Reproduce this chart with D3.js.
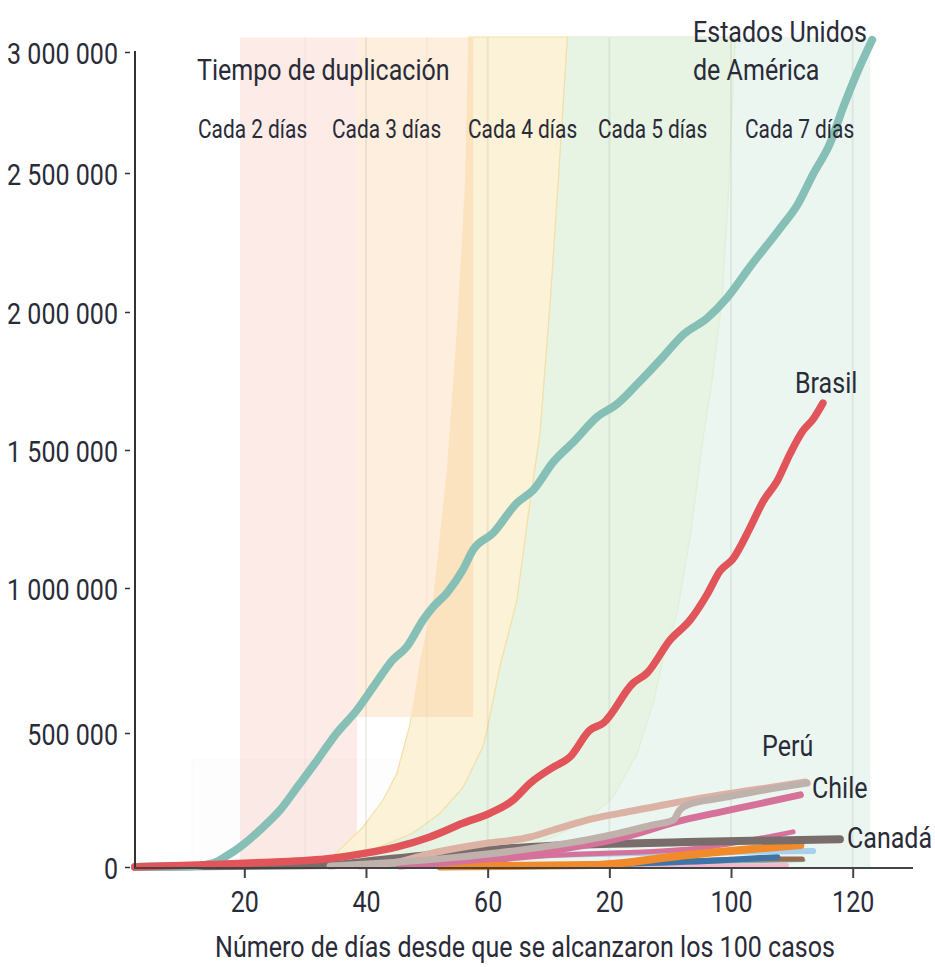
<!DOCTYPE html>
<html><head><meta charset="utf-8">
<script src="https://cdn.jsdelivr.net/npm/d3@7"></script>
<style>body{margin:0;background:#fff;} svg{display:block;}</style>
</head><body><svg id="c" width="935" height="967"></svg>
<script>
// ---------- DATA ----------
const xTickValues = [20, 40, 60, 80, 100, 120];
const xTickLabels = ["20", "40", "60", "20", "100", "120"];
const yTickValues = [0, 500000, 1000000, 1500000, 2000000, 2500000, 3000000];
const gridDays = [40, 60, 80, 100, 120];
const faintGridDays = [30, 50];

// [day since 100th case, cumulative cases]
const usa = [[2,100],[11,2000],[14.9,15000],[17,40000],[19.3,74600],[23.1,149000],[25.9,213000],[28.7,298000],[32.0,399000],[35.2,500000],[38.5,579000],[41.2,659000],[44.4,752000],[46.7,797000],[49.4,890000],[51.0,934000],[53.3,983000],[55.9,1065000],[57.6,1138000],[60.9,1199000],[64.8,1308000],[67.5,1355000],[70.8,1457000],[74.1,1529000],[78.0,1620000],[81.3,1667000],[84.6,1739000],[88.8,1837000],[92.1,1917000],[96.1,1978000],[99.3,2050000],[103.1,2162000],[108.1,2302000],[110.9,2385000],[113.5,2496000],[116.3,2624000],[118.4,2769000],[120.7,2913000],[123.2,3050000]];
const brasil = [[2,100],[14.9,9000],[23.1,17000],[34.1,32000],[39.5,50000],[45.1,75000],[50.5,112000],[56.0,164000],[60.4,201000],[64.2,250000],[67.0,313000],[70.8,373000],[73.5,410000],[76.8,510000],[79.0,534000],[83.9,672000],[86.2,707000],[90.0,821000],[93.3,890000],[96.1,979000],[98.2,1062000],[100.3,1105000],[103.1,1217000],[105.3,1315000],[107.6,1388000],[109.7,1486000],[111.8,1569000],[113.5,1612000],[115.1,1670000]];
const peru = [[39.0,3700],[45.6,20000],[50.5,50000],[58.8,85000],[67.0,112000],[70.8,138000],[76.3,175000],[81.8,201000],[87.2,224000],[91.6,243000],[98.2,269000],[103.6,287000],[112.2,317000]];
const chile = [[34.1,3700],[53.8,34000],[65.3,63000],[76.3,101000],[81.8,127000],[87.2,157000],[90.5,175000],[91.6,213000],[92.8,231000],[98.2,257000],[103.6,280000],[112.5,313000]];
const mexico = [[45.6,3700],[65.3,45000],[81.8,108000],[92.1,175000],[98.2,205000],[103.6,231000],[111.4,269000]];
const canada = [[2.9,1000],[34.1,7000],[39.5,19000],[50.5,45000],[67.0,75000],[92.8,93000],[117.9,104000]];
const ecuador = [[53.8,3700],[65.3,34000],[94.9,71000],[110.2,131000]];
const colombia = [[52.2,2000],[77.3,7000],[92.8,45000],[111.4,82000]];
const panama = [[29.2,3700],[65.3,41000],[94.9,56000],[113.5,60000]];
const bolivia = [[62,2000],[99.3,26000],[107.6,37000]];
const argentina = [[78.5,8000],[108.1,30000],[111.7,30000]];
const rdominicana = [[67,2000],[109.2,7000]];
const guatemala = [[40,1500],[80,9000],[112,24000]];
const others = [[2,500],[60,4000]];

// doubling-time bands
const bandTopCases = 3060000;
const band2Days = [19.3, 38.5];
const band3Days = [38.5, 57.6];
const band3BottomCases = 555000;
const band4Left = [[31.5,0],[35,50000],[39.5,149000],[42.8,250000],[45.1,351000],[47.2,528000],[48.9,752000],[51.0,957000],[53.3,1428000],[54.9,1924000],[56.3,2471000],[56.8,3062000]];
const band4Right = [[33,0],[38,50000],[42.3,75000],[47.7,127000],[52.2,201000],[56.0,299000],[59.2,448000],[59.9,510000],[62.0,728000],[64.8,957000],[67.0,1319000],[68.6,1562000],[70.3,2043000],[71.6,2471000],[73.1,3062000]];
const band5Right = [[35.7,0],[48.9,15000],[58.8,41000],[65.3,75000],[70.8,112000],[76.3,175000],[80.6,261000],[84.6,425000],[87.2,603000],[88.8,752000],[91.1,910000],[93.3,1188000],[95.4,1543000],[96.9,1754000],[98.5,2043000],[99.5,2401000],[100.7,3062000]];
const band7EndDay = 122.9;
const bandLabels = ["Cada 2 días", "Cada 3 días", "Cada 4 días", "Cada 5 días", "Cada 7 días"];
const xTitle = "Número de días desde que se alcanzaron los 100 casos";

// ---------- LAYOUT ----------
const svg = d3.select("#c");
const x = d3.scaleLinear().domain([20, 120]).range([244.3, 852.7]);
const y = d3.scaleLinear()
  .domain([0, 500000, 1000000, 1500000, 2000000, 2500000, 3000000])
  .range([867, 733, 588, 450, 312, 173, 52]);
const axisX0 = 135, axisY0 = 868, axisXEnd = 913;
const TXT = "#2a2b38";
const FONT = "Roboto, 'Liberation Sans', Arial, sans-serif";
svg.attr("font-family", FONT);

// horizontal condensing factor so the axis title spans ~620px at 30px
const probe = svg.append("text").attr("font-size", 30).attr("font-family", FONT).text(xTitle);
const SX = Math.min(1, 620 / probe.node().getComputedTextLength());
probe.remove();

function txt(g, px, py, s, size, anchor) {
  return g.append("text")
    .attr("transform", `translate(${px},${py}) scale(${SX},1)`)
    .attr("text-anchor", anchor || "start")
    .attr("font-size", size)
    .attr("fill", TXT)
    .text(s);
}

const pt = d => [x(d[0]), y(d[1])];
const poly = pts => "M" + pts.map(p => pt(p).join(",")).join("L") + "Z";

// ---------- BANDS ----------
const gB = svg.append("g");
const sevenPoly = band5Right.concat([[band7EndDay, bandTopCases], [band7EndDay, 0]]);
gB.append("path").attr("d", poly(sevenPoly)).attr("fill", "#ebf6f1");
const greenPoly = band4Right.concat(band5Right.slice().reverse());
gB.append("path").attr("d", poly(greenPoly)).attr("fill", "#e8f4e3")
  .attr("stroke", "#e2efdc").attr("stroke-width", 1.5);
gB.append("rect").attr("x", x(band2Days[0])).attr("y", y(bandTopCases))
  .attr("width", x(band2Days[1]) - x(band2Days[0])).attr("height", y(0) - y(bandTopCases))
  .attr("fill", "#fdebe7");
gB.append("rect").attr("x", x(11.4)).attr("y", y(400000)).attr("width", x(49.4) - x(11.4)).attr("height", y(0) - y(400000))
  .attr("fill", "rgba(0,0,0,0.006)").attr("stroke", "rgba(0,0,0,0.02)");
const yellowPoly = band4Left.concat(band4Right.slice().reverse());
gB.append("path").attr("d", poly(yellowPoly)).attr("fill", "#fbf1d5").attr("fill-opacity", 0.95)
  .attr("stroke", "#f5dfa6").attr("stroke-width", 1.2);
const b3 = {x: x(band3Days[0]), y: y(bandTopCases), w: x(band3Days[1]) - x(band3Days[0]), h: y(band3BottomCases) - y(bandTopCases)};
gB.append("rect").attr("x", b3.x).attr("y", b3.y).attr("width", b3.w).attr("height", b3.h).attr("fill", "#fdeedd");
svg.append("clipPath").attr("id", "b3clip").append("rect").attr("x", b3.x).attr("y", b3.y).attr("width", b3.w).attr("height", b3.h);
gB.append("path").attr("d", poly(yellowPoly)).attr("fill", "#fce3bf").attr("clip-path", "url(#b3clip)");

// grid lines
const gG = svg.append("g");
gG.selectAll("line.g").data(gridDays).join("line")
  .attr("x1", d => x(d)).attr("x2", d => x(d)).attr("y1", y(bandTopCases)).attr("y2", axisY0)
  .attr("stroke", "rgba(130,120,100,0.12)").attr("stroke-width", 2);
gG.selectAll("line.f").data(faintGridDays).join("line")
  .attr("x1", d => x(d)).attr("x2", d => x(d)).attr("y1", y(bandTopCases)).attr("y2", axisY0)
  .attr("stroke", "rgba(130,120,100,0.05)").attr("stroke-width", 1.5);

// ---------- LINES ----------
const line = d3.line().x(d => x(d[0])).y(d => y(d[1])).curve(d3.curveMonotoneX);
const series = [
  {data: others, color: "#9c93b8", w: 2.5},
  {data: guatemala, color: "#7fb3aa", w: 3},
  {data: rdominicana, color: "#f4b7cb", w: 4},
  {data: argentina, color: "#9a6a4e", w: 5},
  {data: bolivia, color: "#3f74a9", w: 6},
  {data: panama, color: "#a7d0ec", w: 6},
  {data: ecuador, color: "#d6719a", w: 5},
  {data: colombia, color: "#f08a2a", w: 8},
  {data: canada, color: "#786d6b", w: 8},
  {data: mexico, color: "#d6719a", w: 7},
  {data: peru, color: "#dcb2a5", w: 7},
  {data: chile, color: "#bfb1ab", w: 7},
  {data: usa, color: "#86bfb5", w: 8},
  {data: brasil, color: "#e0545a", w: 7.5}
];
const gL = svg.append("g").attr("fill", "none").attr("stroke-linecap", "round").attr("stroke-linejoin", "round");
gL.selectAll("path").data(series).join("path")
  .attr("d", d => line(d.data)).attr("stroke", d => d.color).attr("stroke-width", d => d.w);

// ---------- AXES ----------
const fmt = d3.formatLocale({decimal: ",", thousands: " ", grouping: [3], currency: ["", ""]}).format(",");
const gy = svg.append("g").attr("transform", `translate(${axisX0},0)`)
  .call(d3.axisLeft(y).tickValues(yTickValues).tickFormat(fmt).tickSize(0).tickSizeOuter(0).tickPadding(17));
gy.select(".domain").remove();
gy.selectAll(".tick").append("line").attr("x1", -10).attr("x2", -5).attr("stroke", "#333").attr("stroke-width", 1.5);
gy.selectAll(".tick text").each(function() {
  const t = d3.select(this); const tx = +t.attr("x");
  t.attr("x", null).attr("dy", null).attr("transform", `translate(${tx},11) scale(${SX},1)`)
   .attr("font-size", 30).attr("font-family", FONT).attr("fill", TXT);
});
svg.append("line").attr("x1", axisX0).attr("x2", axisX0).attr("y1", y(3000000) - 1).attr("y2", axisY0 + 1)
  .attr("stroke", "#333").attr("stroke-width", 2);

const gx = svg.append("g").attr("transform", `translate(0,${axisY0})`)
  .call(d3.axisBottom(x).tickValues(xTickValues).tickFormat((d, i) => xTickLabels[i]).tickSize(10).tickSizeOuter(0).tickPadding(10));
gx.select(".domain").remove();
gx.selectAll(".tick line").attr("stroke", "#444").attr("stroke-width", 2);
gx.selectAll(".tick text").each(function() {
  const t = d3.select(this);
  t.attr("y", null).attr("dy", null).attr("transform", `translate(0,44) scale(${SX},1)`)
   .attr("font-size", 30).attr("font-family", FONT).attr("fill", TXT);
});
svg.append("line").attr("x1", axisX0).attr("x2", axisXEnd).attr("y1", axisY0).attr("y2", axisY0)
  .attr("stroke", "#444").attr("stroke-width", 2);

// ---------- TEXT ----------
const gT = svg.append("g");
txt(gT, 525, 957, xTitle, 30, "middle");
txt(gT, 197, 80, "Tiempo de duplicación", 30);
const bandLabelX = [198, 332, 468, 598, 745];
bandLabels.forEach((s, i) => txt(gT, bandLabelX[i], 138, s, 25));
txt(gT, 693, 42, "Estados Unidos", 30);
txt(gT, 693, 80, "de América", 30);
txt(gT, 795, 393, "Brasil", 30);
txt(gT, 762, 756, "Perú", 30);
txt(gT, 812, 798, "Chile", 30);
txt(gT, 847, 848, "Canadá", 30);
</script></body></html>
